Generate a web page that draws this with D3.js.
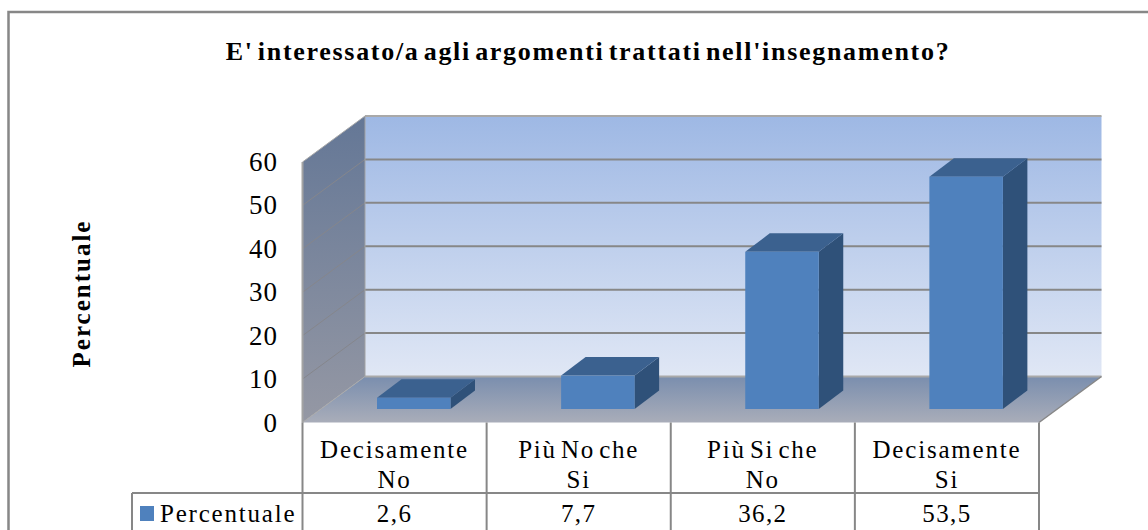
<!DOCTYPE html>
<html><head><meta charset="utf-8">
<script src="https://cdn.jsdelivr.net/npm/d3@7"></script>
<style>html,body{margin:0;padding:0;background:#fff}svg{display:block}
text{font-family:"Liberation Serif",serif;fill:#000}</style></head>
<body><svg id="c" width="1148" height="530"></svg>
<script>
const categories=[["Decisamente","No"],["Più No che","Si"],["Più Si che","No"],["Decisamente","Si"]];
const values=[2.6,7.7,36.2,53.5];
const valueLabels=["2,6","7,7","36,2","53,5"];
const yTicks=[0,10,20,30,40,50,60];
const titleText="E' interessato/a agli argomenti trattati nell'insegnamento?";
const axisTitle="Percentuale";
const seriesName="Percentuale";

const svg=d3.select("#c");
const defs=svg.append("defs");
function grad(id,stops){const g=defs.append("linearGradient").attr("id",id).attr("x1",0).attr("x2",0).attr("y1",0).attr("y2",1);
 stops.forEach(([o,c])=>g.append("stop").attr("offset",o).attr("stop-color",c));}
grad("back",[[0,"#9eb8e4"],[1,"#e0e7f5"]]);
grad("wall",[[0,"#647796"],[1,"#9598a4"]]);
grad("floor",[[0,"#7a8eae"],[1,"#a9adb9"]]);

const x0=302.5,x1=1039,dx=62.5,dy=46,yBase=422.5,yTop=162;
const y=d3.scaleLinear().domain([0,60]).range([yBase,yTop]);
const xBand=d3.scaleBand().domain(d3.range(4)).range([x0,x1]);
const barW=73.5,barDx=24.5,barDy=18.5,barFloor=13.5,barOffset=74.5;
const grey="#878787";
const poly=p=>p.map(a=>a.join(",")).join(" ");

// frame
svg.append("path").attr("d","M8.5,530V12H1148").attr("fill","none").attr("stroke",grey).attr("stroke-width",2.5);

// walls
svg.append("polygon").attr("points",poly([[x0+dx,y(60)-dy],[x1+dx,y(60)-dy],[x1+dx,y(0)-dy],[x0+dx,y(0)-dy]])).attr("fill","url(#back)");
svg.append("polygon").attr("points",poly([[x0,y(60)],[x0+dx,y(60)-dy],[x0+dx,y(0)-dy],[x0,y(0)]])).attr("fill","url(#wall)");
svg.append("polygon").attr("points",poly([[x0,y(0)],[x0+dx,y(0)-dy],[x1+dx,y(0)-dy],[x1,y(0)]])).attr("fill","url(#floor)");

// gridlines
yTicks.forEach(t=>{
 const gy=y(t)-dy;
 svg.append("line").attr("x1",x0+dx).attr("x2",x1+dx).attr("y1",gy).attr("y2",gy).attr("stroke",t===60||t===0?"#a9a9a9":grey).attr("stroke-width",2);
 svg.append("line").attr("x1",x0).attr("x2",x0+dx).attr("y1",y(t)).attr("y2",gy).attr("stroke",t===60||t===0?"#a9a9a9":"#85868c").attr("stroke-width",1);
});
svg.append("line").attr("x1",x0).attr("x2",x0).attr("y1",y(60)).attr("y2",y(0)).attr("stroke","#a3a3a3").attr("stroke-width",2);
svg.append("line").attr("x1",x0+dx).attr("x2",x0+dx).attr("y1",y(60)-dy).attr("y2",y(0)-dy).attr("stroke","#a3a3a3").attr("stroke-width",1);
svg.append("line").attr("x1",x1).attr("x2",x1+dx).attr("y1",y(0)).attr("y2",y(0)-dy).attr("stroke",grey).attr("stroke-width",1.5);

// bars
const h=v=>y(0)-y(v);
const bars=svg.append("g").selectAll("g").data(values).join("g");
bars.each(function(v,i){
 const g=d3.select(this);
 const L=xBand(i)+barOffset, R=L+barW, B=yBase-barFloor, T=B-h(v);
 g.append("polygon").attr("points",poly([[R,B],[R+barDx,B-barDy],[R+barDx,T-barDy],[R,T]])).attr("fill","#2f5179");
 g.append("polygon").attr("points",poly([[L,T],[L+barDx,T-barDy],[R+barDx,T-barDy],[R,T]])).attr("fill","#3b618f");
 g.append("rect").attr("x",L).attr("y",T).attr("width",barW).attr("height",h(v)).attr("fill","#4f81bd");
});

// y tick labels
svg.append("g").selectAll("text").data(yTicks).join("text")
 .attr("x",278).attr("y",t=>y(t)+9).attr("text-anchor","end").attr("font-size",27).attr("letter-spacing",1).text(t=>t);
svg.append("text").attr("transform","translate(90,293.5) rotate(-90)").attr("text-anchor","middle")
 .attr("font-size",25).attr("font-weight","bold").attr("letter-spacing",2).text(axisTitle);
svg.append("text").attr("x",588).attr("y",60).attr("text-anchor","middle").attr("font-size",26).attr("font-weight","bold").attr("letter-spacing",1.7).attr("word-spacing",-4).text(titleText);

// table
const tableBottom=530,rowY=493,legendX=132;
xBand.domain().concat([4]).forEach(i=>{
 const X=i<4?xBand(i):x1;
 svg.append("line").attr("x1",X).attr("x2",X).attr("y1",yBase).attr("y2",tableBottom).attr("stroke",grey).attr("stroke-width",2);
});
svg.append("line").attr("x1",legendX).attr("x2",x1).attr("y1",rowY).attr("y2",rowY).attr("stroke",grey).attr("stroke-width",2);
svg.append("line").attr("x1",legendX).attr("x2",legendX).attr("y1",rowY).attr("y2",tableBottom).attr("stroke",grey).attr("stroke-width",2);
categories.forEach((c,i)=>{
 const cx=xBand(i)+xBand.bandwidth()/2;
 c.forEach((s,j)=>svg.append("text").attr("x",cx).attr("y",458+j*30).attr("text-anchor","middle").attr("font-size",25).attr("letter-spacing",1.8).attr("word-spacing",-4).text(s));
 svg.append("text").attr("x",cx).attr("y",522).attr("text-anchor","middle").attr("font-size",25).attr("letter-spacing",1.4).text(valueLabels[i]);
});
svg.append("rect").attr("x",140).attr("y",506).attr("width",14).attr("height",15).attr("fill","#4f81bd");
svg.append("text").attr("x",160).attr("y",522).attr("font-size",25).attr("letter-spacing",1.8).text(seriesName);
</script></body></html>
